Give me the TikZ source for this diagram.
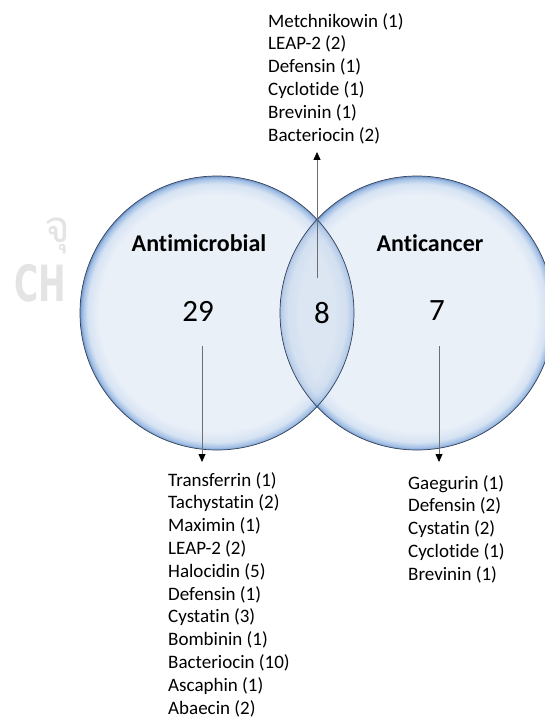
\documentclass[tikz,border=0pt]{standalone}
\usepackage{fontspec}
\setmainfont{Carlito}[Ligatures={NoCommon}]
\newfontfamily\thaifont[Script=Thai]{Loma}
\newfontfamily\markfont{DejaVu Sans}
\usetikzlibrary{positioning, arrows.meta}
\definecolor{bubfill}{RGB}{234,240,248}
\definecolor{bubsoft}{RGB}{214,227,243}
\definecolor{bubrim}{RGB}{160,190,228}
\definecolor{bubedge}{RGB}{115,150,202}
\definecolor{bubline}{RGB}{50,65,90}
\definecolor{lens}{RGB}{120,160,210}
\definecolor{wmark}{RGB}{228,228,228}
\definecolor{pointer}{RGB}{110,110,110}
\pgfdeclareradialshading{bubble}{\pgfpoint{0bp}{0bp}}{color(0bp)=(bubfill); color(21.5bp)=(bubfill); color(23.6bp)=(bubsoft); color(24.6bp)=(bubrim); color(25bp)=(bubedge); color(50bp)=(bubedge)}

\begin{document}
\begin{tikzpicture}[x=1pt, y=-1pt,
	bubble/.style={circle, minimum size=274pt, inner sep=0pt, shade, shading=bubble},
	title/.style={font=\fontsize{24}{28}\selectfont\bfseries},
	count/.style={font=\fontsize{31}{36}\selectfont},
	list/.style={align=left, inner sep=0pt, font=\fontsize{19}{22.8}\selectfont},
	pointer/.style={draw=pointer, line width=0.8pt, -{Triangle[length=8pt, width=7pt, color=black]}}]
\useasboundingbox (0,0) rectangle (545,720);
\node[text=wmark, font=\thaifont\fontsize{44}{50}\selectfont] (wmthai) at (57,236) {จุ};
\node[text=wmark, font=\markfont\bfseries\fontsize{50}{56}\selectfont, anchor=west, inner sep=0pt] (wmch) at (14,283) {\scalebox{0.66}[1]{CH}};
\node[bubble] (amcircle) at (217,313) {};
\node[bubble] (accircle) at (417,313) {};
\begin{scope}
	\clip (accircle.center) circle[radius=137pt];
	\shade[shading=bubble, opacity=0.55] (amcircle.center) circle[radius=137pt];
	\clip (amcircle.center) circle[radius=137pt];
	\fill[lens, opacity=0.12] (accircle.center) circle[radius=137pt];
\end{scope}
\draw[bubline, line width=0.7pt] (amcircle.center) circle[radius=137pt]
	(accircle.center) circle[radius=137pt];
\node[title] (amtitle) at (199,243) {Antimicrobial};
\node[title] (actitle) at (430,243) {Anticancer};
\node[count] (amcount) at (198,311) {29};
\node[count] (bothcount) at (322,313) {8};
\node[count] (account) at (437,311) {7};
\node[list, anchor=north west] (bothlist) at (268,13) {Metchnikowin (1)\\LEAP-2 (2)\\Defensin (1)\\Cyclotide (1)\\Brevinin (1)\\Bacteriocin (2)};
\node[list, anchor=north west] (amlist) at (168,472) {Transferrin (1)\\Tachystatin (2)\\Maximin (1)\\LEAP-2 (2)\\Halocidin (5)\\Defensin (1)\\Cystatin (3)\\Bombinin (1)\\Bacteriocin (10)\\Ascaphin (1)\\Abaecin (2)};
\node[list, anchor=north west] (aclist) at (408,475) {Gaegurin (1)\\Defensin (2)\\Cystatin (2)\\Cyclotide (1)\\Brevinin (1)};
\coordinate (bothfoot) at (317,278);
\coordinate (amfoot) at (202,346);
\coordinate (acfoot) at (439,346);
\draw[pointer, shorten >=8pt] (bothfoot) -- (bothfoot |- bothlist.south);
\draw[pointer, shorten >=10pt] (amfoot) -- (amfoot |- amlist.north);
\draw[pointer, shorten >=13pt] (acfoot) -- (acfoot |- aclist.north);
\end{tikzpicture}
\end{document}
